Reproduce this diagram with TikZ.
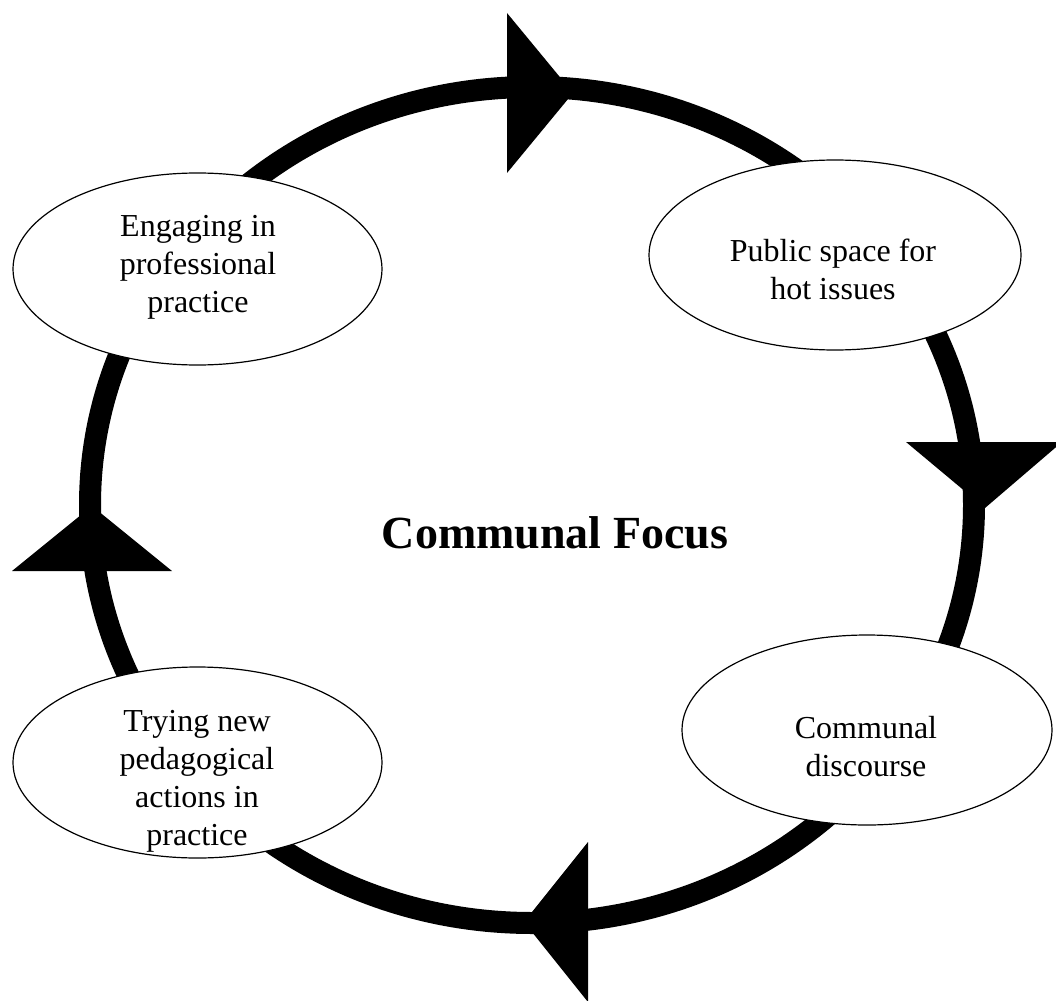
\documentclass[tikz,border=0pt]{standalone}
\usepackage{fontspec}
\setmainfont{Liberation Serif}
\usetikzlibrary{shapes.geometric}
\begin{document}
\begin{tikzpicture}[x=1pt,y=-1pt,
  ring/.style={line width=22pt,black},
  head/.style={fill=black,draw=none},
  bubble/.style={ellipse,draw=black,line width=1.2pt,fill=white,inner sep=0pt},
  label/.style={align=center,inner sep=0pt,font=\fontsize{32}{38}\selectfont}
]
\clip (0,0) rectangle (1056,1000);
\useasboundingbox (0,0) rectangle (1056,1000);
% ring
\coordinate (c) at (532,505);
\draw[ring] (c) ellipse [x radius=442, y radius=418];
% arrowheads
\fill[head] (507,13) -- (573,93) -- (507,173) -- cycle;
\fill[head] (906,442) -- (985,508) -- (1062,442) -- cycle;
\fill[head] (12,571) -- (92,506) -- (172,571) -- cycle;
\fill[head] (588,842) -- (524,922) -- (588,1002) -- cycle;
% bubbles
\node[bubble,minimum width=369pt,minimum height=192pt] (e1) at (197.5,269) {};
\node[bubble,minimum width=372pt,minimum height=190pt] (e2) at (835,255) {};
\node[bubble,minimum width=369pt,minimum height=191pt] (e3) at (197.5,762.5) {};
\node[bubble,minimum width=370pt,minimum height=190pt] (e4) at (867,730) {};
% texts
\node[label] (t1) at (198,267) {Engaging in\\professional\\practice};
\node[label] (t2) at (833,269) {Public space for\\hot issues};
\node[label] (t3) at (197,781) {Trying new\\pedagogical\\actions in\\practice};
\node[label] (t4) at (866,747) {Communal\\discourse};
\node[font=\fontsize{46}{52}\selectfont\bfseries,inner sep=0pt,anchor=base] (focus) at (555,548) {Communal Focus};
\end{tikzpicture}
\end{document}
